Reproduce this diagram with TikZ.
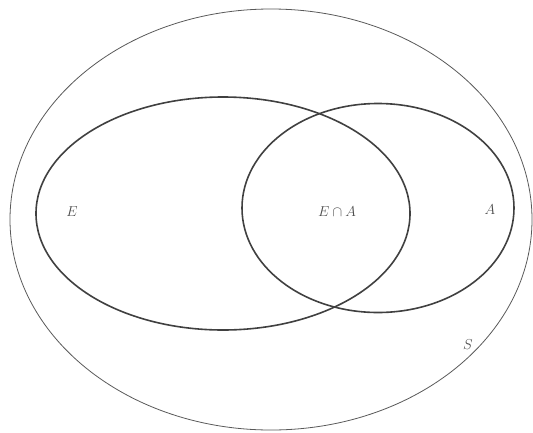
\documentclass[tikz,border=0pt]{standalone}
\begin{document}
\begin{tikzpicture}[x=1pt,y=-1pt,
  setline/.style={draw=black!75,line width=1.6pt},
  outerline/.style={draw=black!65,line width=0.8pt},
  lab/.style={text=black!70,font=\fontsize{14}{16}\selectfont,inner sep=0pt}]
\useasboundingbox (0,0) rectangle (533,432);
\draw[outerline] (271,219.5) ellipse [x radius=261,y radius=210.5];
\draw[setline] (223,213.5) ellipse [x radius=187,y radius=116.5];
\draw[setline] (378,208) ellipse [x radius=136,y radius=104.5];
\node[lab] (e) at (72,212) {$E$};
\node[lab] (ea) at (337,212) {$E\cap A$};
\node[lab] (a) at (490,210) {$A$};
\node[lab] (s) at (468,345) {$S$};
\end{tikzpicture}
\end{document}
